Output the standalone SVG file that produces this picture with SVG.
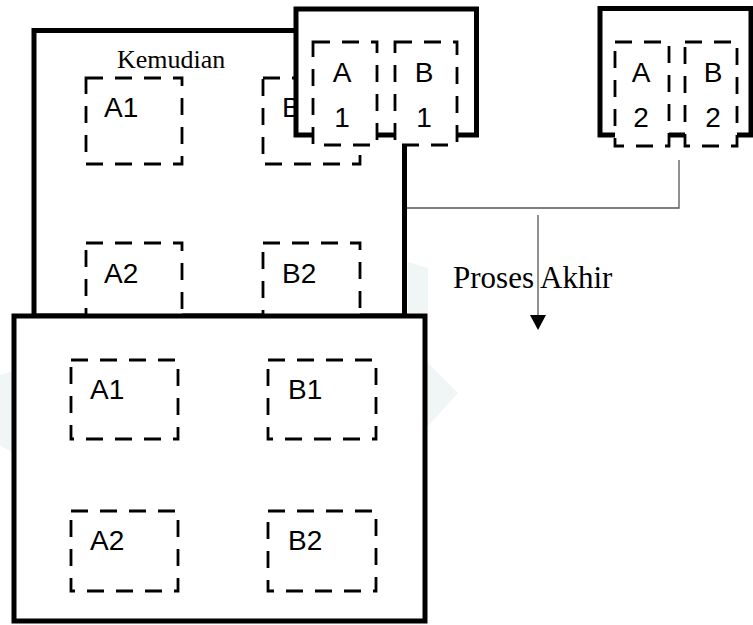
<svg xmlns="http://www.w3.org/2000/svg" width="753" height="625" viewBox="0 0 753 625">
<style>
.box{fill:#fff;stroke:#000;stroke-width:5}
.dash{fill:#fff;stroke:#000;stroke-width:2.8;stroke-dasharray:17 12}
.lbl{font-family:"Liberation Sans",Arial,sans-serif;font-size:28px;fill:#000}
.serif{font-family:"Liberation Serif","Times New Roman",serif;fill:#000}
.conn{fill:none;stroke:#555;stroke-width:1.3}
</style>
<rect width="753" height="625" fill="#fff"/>
<g id="watermark" fill="#f0f5f5">
<polygon points="420,355 458,393 420,435"/>
<polygon points="0,375 16,370 16,455 0,445"/>
<polygon points="408,262 428,268 428,313 408,313"/>
</g>
<g id="back-panel">
<rect class="box" x="34" y="30.5" width="370.5" height="285.5"/>
<text class="serif" x="117" y="68" font-size="26">Kemudian</text>
<rect class="dash" x="86" y="78" width="96" height="86"/>
<text class="lbl" x="104" y="117">A1</text>
<rect class="dash" x="263" y="78" width="97" height="86"/>
<text class="lbl" x="282" y="117">B1</text>
<rect class="dash" x="86" y="243" width="96" height="90"/>
<text class="lbl" x="104" y="283">A2</text>
<rect class="dash" x="263" y="243" width="97" height="90"/>
<text class="lbl" x="282" y="283">B2</text>
</g>
<g id="group-1">
<rect class="box" x="296" y="9" width="180.5" height="126"/>
<rect class="dash" x="313" y="42" width="64" height="103"/>
<rect class="dash" x="395" y="42" width="62" height="103"/>
<text class="lbl" x="342" y="82" text-anchor="middle">A</text>
<text class="lbl" x="342" y="127" text-anchor="middle">1</text>
<text class="lbl" x="424" y="82" text-anchor="middle">B</text>
<text class="lbl" x="424" y="127" text-anchor="middle">1</text>
</g>
<g id="group-2">
<rect class="box" x="600" y="8.5" width="151" height="126.5"/>
<rect class="dash" x="615" y="42" width="54" height="104"/>
<rect class="dash" x="685" y="42" width="52" height="104"/>
<text class="lbl" x="641" y="82" text-anchor="middle">A</text>
<text class="lbl" x="641" y="127" text-anchor="middle">2</text>
<text class="lbl" x="713" y="82" text-anchor="middle">B</text>
<text class="lbl" x="713" y="127" text-anchor="middle">2</text>
</g>
<g id="connectors">
<path class="conn" d="M679,160 L679,208 L407,208"/>
<path class="conn" d="M538,215 L538,318"/>
<polygon points="530,315 546,315 538,330" fill="#000"/>
<text class="serif" x="453" y="288" font-size="31">Proses Akhir</text>
</g>
<g id="front-panel">
<rect class="box" x="14" y="316" width="411" height="305"/>
<rect class="dash" x="71" y="360" width="107" height="79"/>
<text class="lbl" x="90" y="399">A1</text>
<rect class="dash" x="268" y="360" width="108" height="79"/>
<text class="lbl" x="288" y="399">B1</text>
<rect class="dash" x="71" y="511" width="107" height="80"/>
<text class="lbl" x="90" y="550">A2</text>
<rect class="dash" x="268" y="511" width="108" height="80"/>
<text class="lbl" x="288" y="550">B2</text>
</g>
</svg>
